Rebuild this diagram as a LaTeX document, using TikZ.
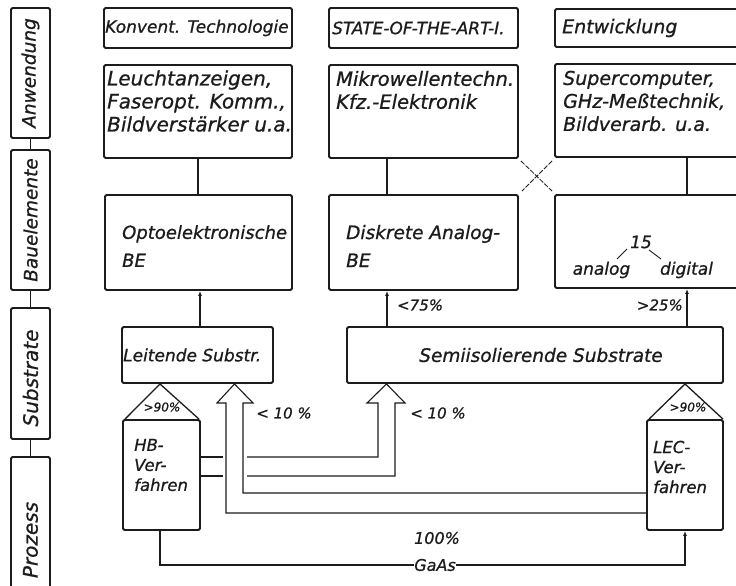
\documentclass[tikz,border=0pt]{standalone}
\usepackage{fontspec}
\setmainfont[ItalicFeatures={FakeBold=0.8}]{DejaVu Sans}
\usetikzlibrary{calc,arrows.meta}
\definecolor{ink}{RGB}{28,28,28}
\begin{document}
\begin{tikzpicture}[x=1pt,y=-1pt,
  box/.style={draw=ink, line width=1.9pt, rounded corners=1.5pt, inner sep=0pt},
  conn/.style={draw=ink, line width=1.1pt},
  arr/.style={conn, -{Latex[length=5pt,width=4pt]}},
  txt/.style={inner sep=0pt, text=ink},
  fs/.style={font={\fontsize{#1}{#1}\selectfont\itshape}},
  fsl/.style 2 args={font={\fontsize{#1}{#2}\selectfont\itshape}},
]
\useasboundingbox (0,0) rectangle (736,586);
\clip (0,0) rectangle (736,586);
\fill[white] (0,0) rectangle (736,586);

% left column
\node[box, minimum width=39, minimum height=130] (anw) at (30.5,73) {};
\node[box, minimum width=39, minimum height=140] (bau) at (30.5,220) {};
\node[box, minimum width=39, minimum height=131] (sub) at (30.5,373.5) {};
\node[box, minimum width=39, minimum height=143] (pro) at (30.5,528.5) {};
\node[txt, fs=18.5, rotate=90] (tanw) at (30.5,73) {Anwendung};
\node[txt, fs=18.5, rotate=90] (tbau) at (30.5,220) {Bauelemente};
\node[txt, fs=20, rotate=90] (tsub) at (30.5,378) {Substrate};
\node[txt, fs=20, rotate=90] (tpro) at (30.5,540) {Prozess};
\draw[conn] (anw.south) -- (bau.north);
\draw[conn] (bau.south) -- (sub.north);
\draw[conn] (sub.south) -- (pro.north);

% top row
\node[box, minimum width=188, minimum height=40] (konv) at (198,28) {};
\node[box, minimum width=189, minimum height=40] (state) at (423.5,28) {};
\node[box, minimum width=205, minimum height=38] (entw) at (657.5,28) {};
\node[txt, fs=17, anchor=west] (tkonv) at (105,28) {Konvent. Technologie};
\node[txt, fs=17, anchor=west] (tstate) at (332,28) {STATE-OF-THE-ART-I.};
\node[txt, fs=19, anchor=west] (tentw) at (562,28) {Entwicklung};

% second row
\node[box, minimum width=188, minimum height=93] (leucht) at (198,111.5) {};
\node[box, minimum width=189, minimum height=93] (mikro) at (423.5,111.5) {};
\node[box, minimum width=205, minimum height=93] (super) at (657.5,110.5) {};
\node[txt, fsl={20}{23}, anchor=west, align=left] (tleucht) at (107,101) {Leuchtanzeigen,\\Faseropt. Komm.,\\Bildverstärker u.a.};
\node[txt, fsl={19.5}{23}, anchor=west, align=left] (tmikro) at (336,90) {Mikrowellentechn.\\Kfz.-Elektronik};
\node[txt, fsl={19}{23}, anchor=west, align=left] (tsuper) at (563,101) {Supercomputer,\\GHz-Meßtechnik,\\Bildverarb. u.a.};

% third row
\node[box, minimum width=187, minimum height=95] (opto) at (198.5,242.5) {};
\node[box, minimum width=189, minimum height=95] (disk) at (423.5,242.5) {};
\node[box, minimum width=205, minimum height=93] (anadig) at (657.5,241.5) {};
\node[txt, fsl={18}{28}, anchor=west, align=left] (topto) at (122,246) {Optoelektronische\\BE};
\node[txt, fsl={18.5}{28}, anchor=west, align=left] (tdisk) at (346,246) {Diskrete Analog-\\BE};
\node[txt, fs=17] (t15) at (641,242) {15};
\node[txt, fs=17] (tana) at (601.5,270) {analog};
\node[txt, fs=17] (tdig) at (686.5,270) {digital};
\draw[conn, line width=0.9pt] (627,249) -- (617,259);
\draw[conn, line width=0.9pt] (649,250) -- (661,259);

% fourth row
\node[box, minimum width=151, minimum height=56] (leit) at (197.5,355) {};
\node[box, minimum width=376, minimum height=56] (semi) at (535,355) {};
\node[txt, fs=17, anchor=west] (tleit) at (123,355) {Leitende Substr.};
\node[txt, fs=18.5] (tsemi) at (541,355) {Semiisolierende Substrate};

% process boxes
\node[box, minimum width=77, minimum height=110] (hb) at (161.5,475) {};
\node[box, minimum width=76, minimum height=110] (lec) at (685,475) {};
\node[txt, fsl={16.5}{20}, anchor=west, align=left] (thb) at (134,465) {HB-\\Ver-\\fahren};
\node[txt, fsl={16.5}{20}, anchor=west, align=left] (tlec) at (653,467) {LEC-\\Ver-\\fahren};

% connectors between rows
\draw[conn] (leucht.south) -- (leucht.south |- opto.north);
\draw[conn] (387,0 |- mikro.south) -- (387,0 |- disk.north);
\draw[conn] (687,0 |- super.south) -- (687,0 |- anadig.north);
\draw[conn, line width=0.8pt, dash pattern=on 5pt off 1.5pt] ($(mikro.south east)+(2,2)$) -- ($(anadig.north west)+(-2,-3)$);
\draw[conn, line width=0.8pt, dash pattern=on 5pt off 1.5pt] ($(super.south west)+(-2,3)$) -- ($(disk.north east)+(3,-3)$);

\draw[arr] (200,0 |- leit.north) -- (200,0 |- opto.south);
\draw[arr] (387,0 |- semi.north) -- (387,0 |- disk.south);
\draw[arr] (687,0 |- semi.north) -- (687,0 |- anadig.south);
\node[txt, fs=15, anchor=west] (l75) at (397,305) {<75\%};
\node[txt, fs=15, anchor=east] (l25) at (683,305) {>25\%};

% direct triangles (>90%)
\draw[conn, line width=1.3pt] ($(hb.north west)+(3,0)$) -- (160,0 |- leit.south) -- ($(hb.north east)+(-2,0)$);
\draw[conn, line width=1.3pt] ($(lec.north west)+(3,0)$) -- (685,0 |- semi.south) -- ($(lec.north east)+(-1,0)$);
\node[txt, fs=12] (p90a) at (162,407) {>90\%};
\node[txt, fs=12] (p90b) at (688,407) {>90\%};

% hollow arrow LEC -> Leitende
\draw[conn] (lec.west |- 0,513) -- (226,513) -- (226,403) -- (217,403) -- (234.5,0 |- leit.south)
  -- (253,403) -- (243,403) -- (243,493) -- (lec.west |- 0,493);
% hollow arrow HB -> Semiisolierende
\draw[conn] (hb.east |- 0,457) -- (223,457);
\draw[conn] (hb.east |- 0,476) -- (223,476);
\draw[conn] (247,457) -- (378,457) -- (378,403) -- (367,403) -- (386.5,0 |- semi.south)
  -- (405,403) -- (395,403) -- (395,476) -- (247,476);
\node[txt, fs=15] (p10a) at (284,413) {< 10 \%};
\node[txt, fs=15] (p10b) at (438,413) {< 10 \%};

% GaAs
\node[txt, fs=16] (p100) at (437,538) {100\%};
\node[txt, fs=16] (gaas) at (435,565) {GaAs};
\draw[conn] (160,0 |- hb.south) |- (gaas.west);
\draw[arr] (gaas.east) -| (lec.south);
\end{tikzpicture}
\end{document}
